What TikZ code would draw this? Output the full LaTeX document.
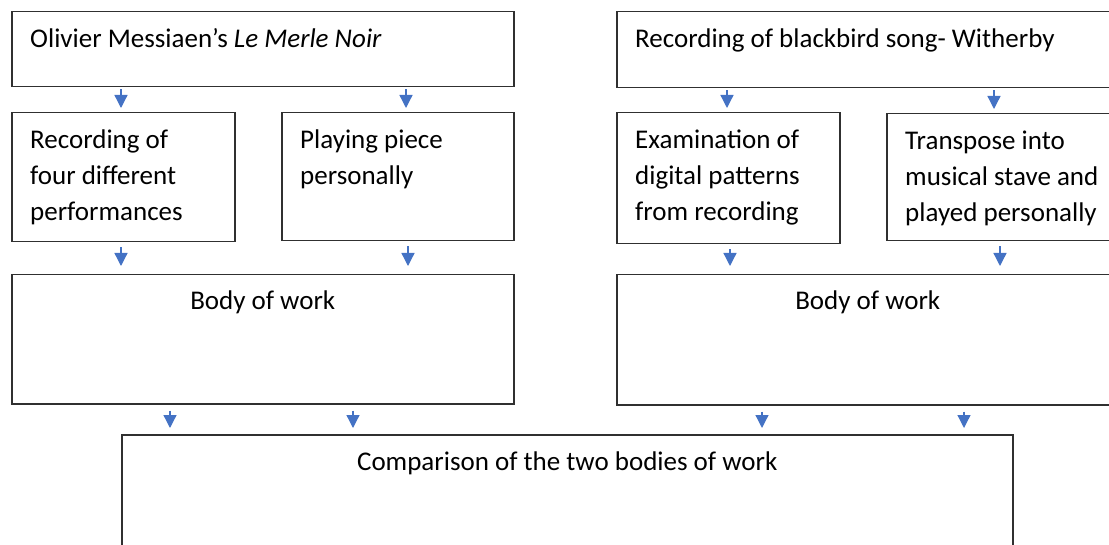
\documentclass[tikz,border=0pt]{standalone}
\usepackage{fontspec}
\setmainfont{Carlito}
\usetikzlibrary{arrows.meta}
\definecolor{arrowblue}{HTML}{4472C4}
\definecolor{boxline}{HTML}{303030}
\begin{document}
\begin{tikzpicture}[x=1pt,y=-1pt,
  box/.style={draw=boxline, line width=1.5pt, inner sep=0pt, anchor=north west},
  ltxt/.style={font=\fontsize{27}{36}\selectfont, inner sep=0pt, anchor=base west, xshift=19pt, yshift=-37pt},
  ctxt/.style={font=\fontsize{27}{36}\selectfont, inner sep=0pt, anchor=base, yshift=-36pt},
  arr/.style={draw=arrowblue, line width=1.3pt, -{Triangle[width=13pt,length=13pt]}},
  rowa/.style={arr, shorten <=2pt, shorten >=4pt},
  rowb/.style={arr, shorten <=5pt, shorten >=8pt},
  rowc/.style={arr, shorten <=6pt, shorten >=6pt}]
\useasboundingbox (0,0) rectangle (1109,545);
\clip (0,0) rectangle (1109,545);
% left column
\node[box, minimum width=502pt, minimum height=75pt, label={[ltxt]north west:{Olivier Messiaen’s \textit{Le Merle Noir}}}] (A) at (11,11) {};
\node[box, minimum width=223pt, minimum height=129pt, label={[ltxt]north west:{\parbox[t]{210pt}{Recording of\\four different\\performances}}}] (A1) at (11,112) {};
\node[box, minimum width=232pt, minimum height=128pt, label={[ltxt]north west:{\parbox[t]{210pt}{Playing piece\\personally}}}] (A2) at (281,112) {};
\node[box, minimum width=502pt, minimum height=129pt, label={[ctxt]north:{Body of work}}] (A3) at (11,274) {};
% right column
\node[box, minimum width=502pt, minimum height=76pt, label={[ltxt]north west:{Recording of blackbird song- Witherby}}] (B) at (616,11) {};
\node[box, minimum width=223pt, minimum height=131pt, label={[ltxt]north west:{\parbox[t]{210pt}{Examination of\\digital patterns\\from recording}}}] (B1) at (616,112) {};
\node[box, minimum width=232pt, minimum height=127pt, label={[ltxt]north west:{\parbox[t]{220pt}{Transpose into\\musical stave and\\played personally}}}] (B2) at (886,113) {};
\node[box, minimum width=502pt, minimum height=130pt, label={[ctxt]north:{Body of work}}] (B3) at (616,274) {};
% comparison
\node[box, minimum width=891pt, minimum height=150pt, label={[ctxt]north:{Comparison of the two bodies of work}}] (C) at (121,434) {};
% arrows
\draw[rowa] (A.south -| 121,0) -- (A1.north -| 121,0);
\draw[rowa] (A.south -| 406,0) -- (A2.north -| 406,0);
\draw[rowb] (A1.south -| 121,0) -- (A3.north -| 121,0);
\draw[rowb] (A2.south -| 408,0) -- (A3.north -| 408,0);
\draw[rowa] (B.south -| 727,0) -- (B1.north -| 727,0);
\draw[rowa] (B.south -| 994,0) -- (B2.north -| 994,0);
\draw[rowb] (B1.south -| 730,0) -- (B3.north -| 730,0);
\draw[rowb] (B2.south -| 1000,0) -- (B3.north -| 1000,0);
\draw[rowc] (A3.south -| 170,0) -- (C.north -| 170,0);
\draw[rowc] (A3.south -| 353,0) -- (C.north -| 353,0);
\draw[rowc] (B3.south -| 762,0) -- (C.north -| 762,0);
\draw[rowc] (B3.south -| 964,0) -- (C.north -| 964,0);
\end{tikzpicture}
\end{document}
